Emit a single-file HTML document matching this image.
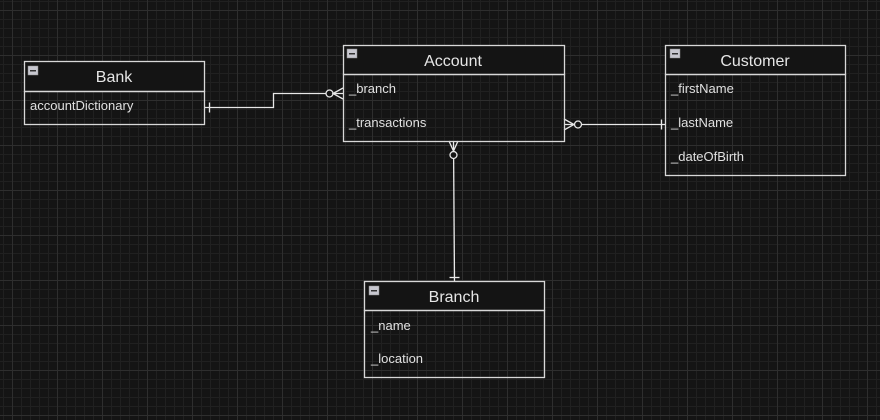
<!DOCTYPE html>
<html><head><style>
html,body{margin:0;padding:0;background:#141414;}
svg{display:block;font-family:"Liberation Sans",Arial,sans-serif;}
</style></head><body>
<svg width="880" height="420" viewBox="0 0 880 420" xmlns="http://www.w3.org/2000/svg">
<defs>
<pattern id="minor" x="3" y="1" width="9" height="9" patternUnits="userSpaceOnUse">
<path d="M0 0.5H9M0.5 0V9" stroke="#202020" stroke-width="1" fill="none"/>
</pattern>
<pattern id="major" x="12" y="10" width="45" height="45" patternUnits="userSpaceOnUse">
<path d="M0 0.5H45M0.5 0V45" stroke="#2e2e2e" stroke-width="1" fill="none"/>
</pattern>
</defs>
<rect width="880" height="420" fill="#141414"/>
<rect width="880" height="420" fill="url(#minor)"/>
<rect width="880" height="420" fill="url(#major)"/>

<g stroke="#e8e8e8" stroke-width="1.3" fill="none">
<!-- Bank -> Account -->
<path d="M204.5 107.5H273.5V93.5H343"/>
<path d="M209.5 102.5V112.5"/>
<circle cx="329.5" cy="93.5" r="3.5" fill="#141414"/>
<path d="M343 88L333 93.5L343 99"/>
<!-- Account -> Customer -->
<path d="M564 124.5H665"/>
<path d="M661.5 119.5V129.5"/>
<circle cx="578" cy="124.5" r="3.5" fill="#141414"/>
<path d="M564 119L574 124.5L564 130"/>
<!-- Account -> Branch -->
<path d="M453.5 141L454.5 281"/>
<path d="M449.5 277.5H459.5"/>
<circle cx="453.5" cy="155" r="3.5" fill="#141414"/>
<path d="M449 141L453.5 151L458 141"/>
</g>

<g stroke="#d8d8d8" stroke-width="1.3">
<!-- Bank -->
<rect x="24.5" y="61.5" width="180" height="30" fill="#141414"/>
<rect x="24.5" y="91.5" width="180" height="33" fill="none"/>
<!-- Account -->
<rect x="343.5" y="45.5" width="221" height="29" fill="#141414"/>
<rect x="343.5" y="74.5" width="221" height="67" fill="none"/>
<!-- Customer -->
<rect x="665.5" y="45.5" width="180" height="29" fill="#141414"/>
<rect x="665.5" y="74.5" width="180" height="101" fill="none"/>
<!-- Branch -->
<rect x="364.5" y="281.5" width="180" height="29" fill="#141414"/>
<rect x="364.5" y="310.5" width="180" height="67" fill="none"/>
</g>

<g>
<rect x="28" y="66" width="10" height="9" fill="#c8c8d0" stroke="#888" stroke-width="0.5"/><rect x="30" y="70" width="6" height="1.5" fill="#333"/>
<rect x="347" y="49" width="10" height="9" fill="#c8c8d0" stroke="#888" stroke-width="0.5"/><rect x="349" y="53" width="6" height="1.5" fill="#333"/>
<rect x="670" y="49" width="10" height="9" fill="#c8c8d0" stroke="#888" stroke-width="0.5"/><rect x="672" y="53" width="6" height="1.5" fill="#333"/>
<rect x="369" y="286" width="10" height="9" fill="#c8c8d0" stroke="#888" stroke-width="0.5"/><rect x="371" y="290" width="6" height="1.5" fill="#333"/>
</g>

<g fill="#e6e6e6" font-size="16" text-anchor="middle">
<text x="114" y="82">Bank</text>
<text x="453" y="66">Account</text>
<text x="755" y="66">Customer</text>
<text x="454" y="302">Branch</text>
</g>
<g fill="#e0e0e0" font-size="13">
<text x="30" y="110">accountDictionary</text>
<text x="349" y="93">_branch</text>
<text x="349" y="127">_transactions</text>
<text x="671" y="93">_firstName</text>
<text x="671" y="127">_lastName</text>
<text x="671" y="161">_dateOfBirth</text>
<text x="371" y="330">_name</text>
<text x="371" y="363">_location</text>
</g>
</svg>
</body></html>
